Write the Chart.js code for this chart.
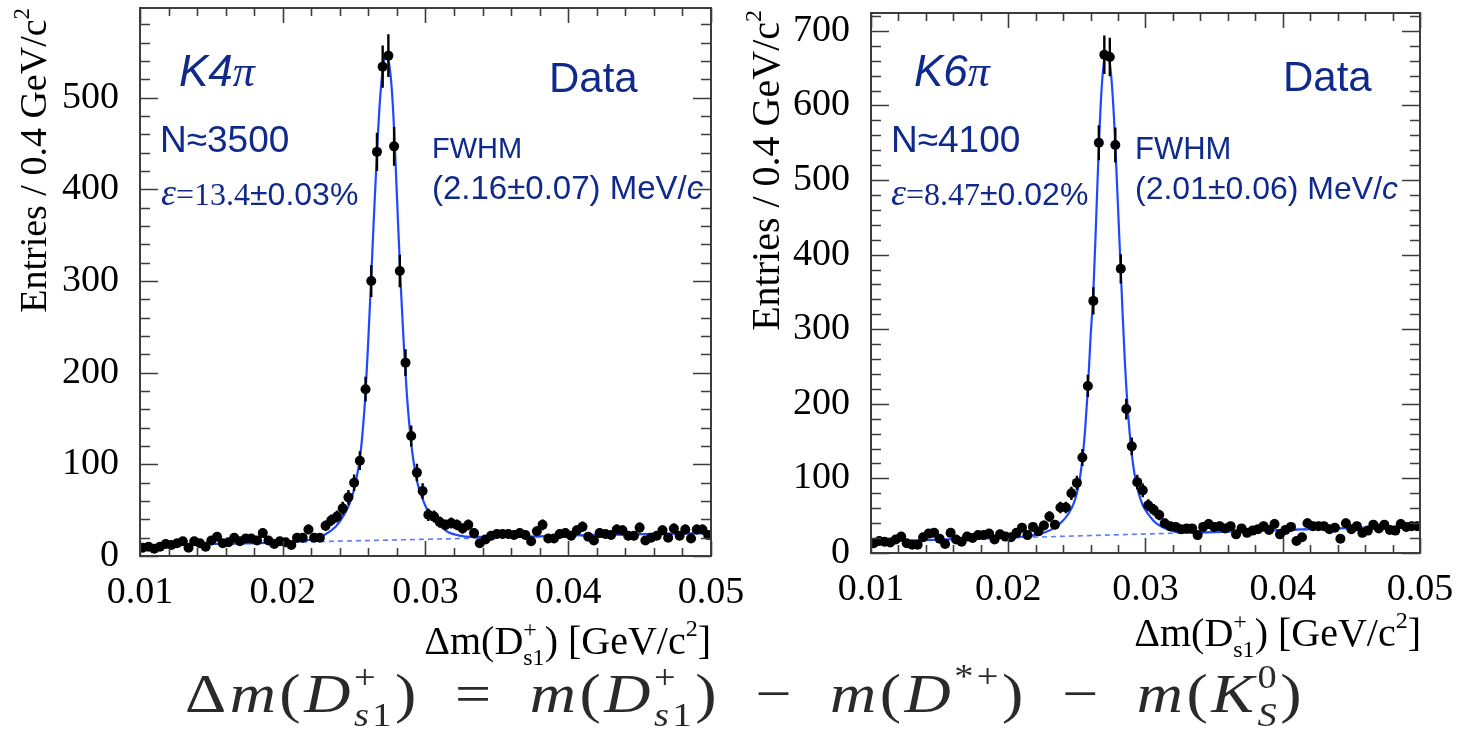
<!DOCTYPE html>
<html>
<head>
<meta charset="utf-8">
<script src="https://cdn.jsdelivr.net/npm/chart.js@4.4.1/dist/chart.umd.min.js"></script>
<style>
  html, body { margin: 0; padding: 0; background: #fff; }
  body { position: relative; width: 1467px; height: 734px; overflow: hidden; }
  canvas { position: absolute; top: 0; }
  #left { left: 0; }
  #right { left: 760px; }
  .ann { position: absolute; color: #102a8c; font-family: 'Liberation Sans', Arial, sans-serif; white-space: nowrap; line-height: 1; }
  .srf { font-family: 'Liberation Serif', 'Times New Roman', serif; }
  .it { font-style: italic; }
  .title { position: absolute; font-family: 'Liberation Serif', 'Times New Roman', serif; font-size: 40px; line-height: 1; white-space: nowrap; color: #000; }
  .ytitle { width: 330px; text-align: right; transform: rotate(-90deg); transform-origin: 0 0; }
  .title sup { font-size: 0.6em; vertical-align: 0.75em; line-height: 0; }
  .ss { display: inline-flex; flex-direction: column; font-size: 0.6em; line-height: 1.15; vertical-align: 0.72em; }
  #formula { position: absolute; left: 185px; top: 659px; font-family: 'Liberation Serif', 'Times New Roman', serif; font-style: italic; font-size: 55px; line-height: 1; letter-spacing: 3px; white-space: nowrap; color: #2a2a2a; transform-origin: 0 0; }
  #formula .r { font-style: normal; }
  #formula .op { font-style: normal; margin: 0 0.55em; }
  #formula .sp { font-size: 0.6em; vertical-align: 0.75em; font-style: normal; }
</style>
</head>
<body>
<canvas id="left" width="760" height="620"></canvas>
<canvas id="right" width="707" height="620"></canvas>

<div class="title ytitle" style="left:14px; top:338px; font-size:38px;">Entries / 0.4 GeV/c<sup>2</sup></div>
<div class="title ytitle" style="left:746px; top:340px;">Entries / 0.4 GeV/c<sup>2</sup></div>
<div class="title" style="right:756px; top:616px;">&Delta;m(D<span class="ss"><span>+</span><span>s1</span></span>) [GeV/c<sup>2</sup>]</div>
<div class="title" style="right:46px; top:608px;">&Delta;m(D<span class="ss"><span>+</span><span>s1</span></span>) [GeV/c<sup>2</sup>]</div>

<div class="ann it" style="left:179px; top:49px; font-size:44px;">K4<span class="srf">&pi;</span></div>
<div class="ann" style="left:549px; top:57px; font-size:42px;">Data</div>
<div class="ann" style="left:160px; top:121px; font-size:37px;">N&asymp;3500</div>
<div class="ann" style="left:161px; top:173px; font-size:32px;"><span class="srf it" style="font-size:38px;">&epsilon;</span><span class="srf">=13.4</span>&plusmn;0.03%</div>
<div class="ann" style="left:432px; top:134px; font-size:29px;">FWHM</div>
<div class="ann" style="left:432px; top:171px; font-size:33px;">(2.16&plusmn;0.07) MeV/<span class="it">c</span></div>

<div class="ann it" style="left:914px; top:49px; font-size:44px;">K6<span class="srf">&pi;</span></div>
<div class="ann" style="left:1283px; top:56px; font-size:42px;">Data</div>
<div class="ann" style="left:891px; top:121px; font-size:37px;">N&asymp;4100</div>
<div class="ann" style="left:891px; top:173px; font-size:32px;"><span class="srf it" style="font-size:38px;">&epsilon;</span><span class="srf">=8.47</span>&plusmn;0.02%</div>
<div class="ann" style="left:1135px; top:133px; font-size:31px;">FWHM</div>
<div class="ann" style="left:1135px; top:172px; font-size:32px;">(2.01&plusmn;0.06) MeV/<span class="it">c</span></div>

<div id="formula"><span class="r">&Delta;</span>m<span class="r">(</span>D<span class="ss"><span class="r">+</span><span>s<span class="r">1</span></span></span><span class="r">)</span><span class="op">=</span>m<span class="r">(</span>D<span class="ss"><span class="r">+</span><span>s<span class="r">1</span></span></span><span class="r">)</span><span class="op">&minus;</span>m<span class="r">(</span>D<span class="sp">*+</span><span class="r">)</span><span class="op">&minus;</span>m<span class="r">(</span>K<span class="ss"><span class="r">0</span><span>S</span></span><span class="r">)</span></div>

<script>
// histogram binning: 100 bins of 0.4 MeV between 0.01 and 0.05 GeV
const xMin = 0.01;
const xMax = 0.05;
const binWidth = 0.0004;

const xTicks = [0.01, 0.02, 0.03, 0.04, 0.05];
const leftYTicks = [0, 100, 200, 300, 400, 500];
const rightYTicks = [0, 100, 200, 300, 400, 500, 600, 700];

// K4pi entries per bin
const leftCounts = [
  9, 10, 8, 10, 13, 12, 14, 16, 9, 16,
  14, 10, 17, 21, 14, 15, 20, 16, 19, 19,
  17, 25, 17, 13, 16, 15, 12, 20, 20, 29,
  20, 20, 33, 39, 43, 52, 64, 80, 104, 182,
  300, 441, 534, 546, 447, 311, 211, 131, 91, 71,
  45, 43, 37, 34, 36, 34, 30, 34, 25, 14,
  18, 22, 24, 24, 24, 23, 25, 23, 16, 27,
  34, 19, 19, 24, 25, 22, 28, 32, 21, 17,
  25, 24, 23, 29, 28, 22, 22, 31, 17, 20,
  22, 28, 20, 30, 22, 29, 19, 29, 29, 23
];

// K6pi entries per bin
const rightCounts = [
  13, 16, 15, 14, 18, 22, 13, 11, 11, 21,
  26, 27, 19, 12, 27, 18, 15, 22, 20, 24,
  24, 26, 18, 25, 22, 21, 27, 34, 24, 35,
  29, 37, 49, 38, 61, 61, 80, 94, 128, 224,
  338, 550, 668, 665, 547, 381, 193, 143, 95, 84,
  64, 58, 51, 40, 36, 35, 32, 33, 33, 24,
  35, 39, 35, 36, 33, 36, 25, 33, 27, 30,
  32, 36, 31, 39, 25, 31, 35, 16, 21, 40,
  36, 36, 36, 32, 34, 19, 40, 32, 36, 27,
  30, 38, 33, 38, 31, 30, 39, 35, 36, 36
];

// fit curves
const leftFitX = [0.0100, 0.0160, 0.0200, 0.0212, 0.0220, 0.0229, 0.0237, 0.0243, 0.0248, 0.0251,
  0.0254, 0.0256, 0.0258, 0.0260, 0.0262, 0.0264, 0.0266, 0.0268, 0.0270, 0.02725,
  0.0275, 0.0277, 0.0279, 0.0281, 0.0283, 0.0285, 0.0287, 0.0289, 0.0291, 0.0293,
  0.0295, 0.0298, 0.0301, 0.0305, 0.0310, 0.0316, 0.0323, 0.0332, 0.0345, 0.0420, 0.0500];
const leftFitY = [11.5, 13.5, 14.8, 15.8, 18, 23, 32, 45, 62, 80,
  106, 136, 178, 238, 305, 375, 440, 495, 530, 547,
  532, 495, 430, 355, 285, 225, 175, 138, 110, 90,
  76, 62, 51, 41, 33, 26, 22.5, 20.8, 20.8, 23, 25];

const rightFitX = [0.0100, 0.0180, 0.0205, 0.0214, 0.0222, 0.0231, 0.0238, 0.0244, 0.0248, 0.0251,
  0.0254, 0.0256, 0.0258, 0.0260, 0.0262, 0.0264, 0.0266, 0.0268, 0.0270, 0.02715,
  0.0273, 0.0275, 0.0277, 0.0279, 0.0281, 0.0283, 0.0285, 0.0287, 0.0289, 0.0291,
  0.0293, 0.0295, 0.0298, 0.0302, 0.0306, 0.0311, 0.0317, 0.0325, 0.0335, 0.0350, 0.0420, 0.0500];
const rightFitY = [15, 19.5, 21, 22.5, 25, 31, 40, 53, 68, 88,
  125, 165, 220, 290, 350, 445, 545, 622, 662, 672,
  668, 640, 585, 505, 420, 335, 255, 195, 150, 118,
  96, 80, 64, 52, 43, 36, 31, 27.5, 27, 28, 32, 36];

// linear background (dashed)
const leftBgX = [0.01, 0.05];
const leftBgY = [11.5, 25];
const rightBgX = [0.01, 0.05];
const rightBgY = [15, 36];

const serif = "'Liberation Serif', 'Times New Roman', serif";

const toPoints = (xs, ys) => xs.map((x, i) => ({ x, y: ys[i] }));
const toBins = (counts) => counts.map((c, i) => ({ x: xMin + (i + 0.5) * binWidth, y: c }));

// ROOT-like frame with inner ticks on all four sides
const rootFrame = {
  id: 'rootFrame',
  afterDraw(chart) {
    const { ctx, chartArea: a, scales: { x, y } } = chart;
    ctx.save();
    ctx.strokeStyle = '#3c3c3c';
    ctx.lineWidth = 2;
    ctx.strokeRect(a.left, a.top, a.right - a.left, a.bottom - a.top);
    ctx.lineWidth = 1.6;
    ctx.beginPath();
    for (let i = 0; i <= 20; i++) {
      const px = Math.round(x.getPixelForValue(xMin + i * 0.002)) + 0.5;
      const len = i % 5 === 0 ? 15 : 8;
      ctx.moveTo(px, a.bottom); ctx.lineTo(px, a.bottom - len);
      ctx.moveTo(px, a.top); ctx.lineTo(px, a.top + len);
    }
    for (let v = 0; v <= y.max; v += 20) {
      const py = Math.round(y.getPixelForValue(v)) + 0.5;
      const len = v % 100 === 0 ? 18 : 10;
      ctx.moveTo(a.left, py); ctx.lineTo(a.left + len, py);
      ctx.moveTo(a.right, py); ctx.lineTo(a.right - len, py);
    }
    ctx.stroke();
    ctx.restore();
  }
};

// poisson error bars on the data points
const errorBars = {
  id: 'errorBars',
  afterDatasetsDraw(chart) {
    const { ctx, chartArea: a, scales: { x, y } } = chart;
    const pts = chart.data.datasets[0].data;
    ctx.save();
    ctx.beginPath();
    ctx.rect(a.left, a.top, a.right - a.left, a.bottom - a.top);
    ctx.clip();
    ctx.strokeStyle = '#000';
    ctx.lineWidth = 2.4;
    ctx.beginPath();
    pts.forEach(p => {
      const err = Math.sqrt(p.y);
      const px = x.getPixelForValue(p.x);
      ctx.moveTo(px, y.getPixelForValue(p.y - err));
      ctx.lineTo(px, y.getPixelForValue(p.y + err));
    });
    ctx.stroke();
    ctx.restore();
  }
};

const makeChart = (id, counts, fitX, fitY, bgX, bgY, yMax, yTicks, pad, yWidth) => {
  const ctx = document.getElementById(id);
  return new Chart(ctx, {
    type: 'scatter',
    data: {
      datasets: [
        {
          label: 'Data',
          data: toBins(counts),
          backgroundColor: '#000',
          borderWidth: 0,
          pointRadius: 5,
          pointHoverRadius: 5
        },
        {
          label: 'Fit',
          data: toPoints(fitX, fitY),
          showLine: true,
          borderColor: '#1f48ff',
          borderWidth: 2.2,
          pointRadius: 0,
          cubicInterpolationMode: 'monotone'
        },
        {
          label: 'Background',
          data: toPoints(bgX, bgY),
          showLine: true,
          borderColor: '#5a7dff',
          borderWidth: 1.6,
          borderDash: [5, 4],
          pointRadius: 0
        }
      ]
    },
    options: {
      responsive: false,
      animation: false,
      layout: { padding: pad },
      plugins: {
        legend: { display: false },
        tooltip: { enabled: false }
      },
      scales: {
        x: {
          type: 'linear',
          min: xMin,
          max: xMax,
          afterFit: (scale) => {
            scale.height = 50;
            scale.paddingLeft = 0;
            scale.paddingRight = 0;
          },
          afterBuildTicks: (scale) => { scale.ticks = xTicks.map(value => ({ value })); },
          grid: { display: false, drawTicks: false },
          border: { display: false },
          ticks: {
            autoSkip: false,
            maxRotation: 0,
            padding: 14,
            color: '#000',
            font: { family: serif, size: 38 },
            callback: (v) => v.toFixed(2)
          }
        },
        y: {
          min: 0,
          max: yMax,
          afterFit: (scale) => {
            scale.width = yWidth;
            scale.paddingTop = 0;
            scale.paddingBottom = 0;
          },
          afterBuildTicks: (scale) => { scale.ticks = yTicks.map(value => ({ value })); },
          grid: { display: false, drawTicks: false },
          border: { display: false },
          ticks: {
            autoSkip: false,
            padding: 21,
            color: '#000',
            font: { family: serif, size: 38 },
            callback: (v) => String(v)
          }
        }
      }
    },
    plugins: [errorBars, rootFrame]
  });
};

makeChart('left', leftCounts, leftFitX, leftFitY, leftBgX, leftBgY, 598, leftYTicks,
  { left: 0, right: 49, top: 8, bottom: 14 }, 140);
makeChart('right', rightCounts, rightFitX, rightFitY, rightBgX, rightBgY, 724, rightYTicks,
  { left: 0, right: 47, top: 13, bottom: 17 }, 111);

// stretch the formula to the width it has in the figure
const formula = document.getElementById('formula');
const fw = formula.getBoundingClientRect().width;
formula.style.transform = `scaleX(${1120 / fw})`;
</script>
</body>
</html>
